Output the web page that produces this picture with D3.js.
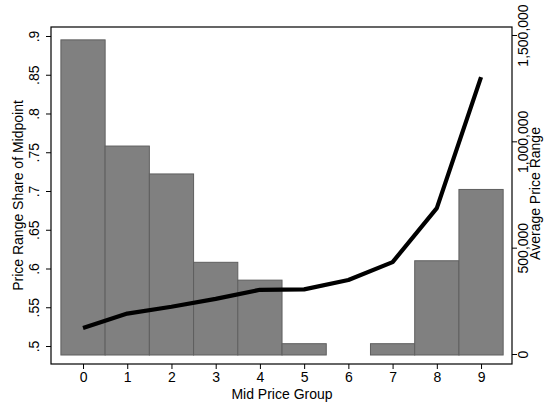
<!DOCTYPE html>
<html>
<head>
<meta charset="utf-8">
<script src="https://cdn.jsdelivr.net/npm/d3@7"></script>
<style>
  html, body { margin: 0; padding: 0; background: #fff; }
  svg { display: block; font-family: "Liberation Sans", Arial, sans-serif; }
</style>
</head>
<body>
<svg id="chart" width="555" height="406"></svg>
<script>
// Mid price groups 0..9
const groups = [0, 1, 2, 3, 4, 5, 6, 7, 8, 9];
// Price range as a share of the midpoint (bars); group 6 has no bar
const shareOfMidpoint = [0.895, 0.758, 0.722, 0.608, 0.585, 0.503, null, 0.503, 0.610, 0.702];
// Average price range (line)
const avgPriceRange = [122000, 190000, 222000, 259000, 302000, 304000, 348000, 432000, 686000, 1302000];
// Bars rise from this floor value
const barBase = 0.4884;

const leftTicks = [0.5, 0.55, 0.6, 0.65, 0.7, 0.75, 0.8, 0.85, 0.9];
const leftTickLabels = [".5", ".55", ".6", ".65", ".7", ".75", ".8", ".85", ".9"];
const rightTicks = [0, 500000, 1000000, 1500000];
const rightTickLabels = ["0", "500,000", "1,000,000", "1,500,000"];

const svg = d3.select("#chart");
const box = { left: 51, right: 512, top: 27, bottom: 364 };

const x = d3.scaleLinear().domain([-0.724, 9.70]).range([box.left, box.right]);
const yL = d3.scaleLinear().domain([0.4768, 0.9116]).range([box.bottom, box.top]);
const yR = d3.scaleLinear().domain([-47000, 1537600]).range([box.bottom, box.top]);

// Bars
const barData = groups.map((g, i) => ({ g, v: shareOfMidpoint[i] })).filter(d => d.v != null);
svg.append("g").selectAll("rect").data(barData).join("rect")
  .attr("x", d => x(d.g - 0.5))
  .attr("width", d => x(d.g + 0.5) - x(d.g - 0.5))
  .attr("y", d => yL(d.v))
  .attr("height", d => yL(barBase) - yL(d.v))
  .attr("fill", "#808080")
  .attr("stroke", "#5f5f5f")
  .attr("stroke-width", 1);

// Line
const lineData = groups.map((g, i) => ({ g, v: avgPriceRange[i] }));
svg.append("path")
  .datum(lineData)
  .attr("fill", "none")
  .attr("stroke", "#000")
  .attr("stroke-width", 4.2)
  .attr("stroke-linejoin", "round")
  .attr("d", d3.line().x(d => x(d.g)).y(d => yR(d.v)));

// Frame
svg.append("rect")
  .attr("x", box.left).attr("y", box.top)
  .attr("width", box.right - box.left).attr("height", box.bottom - box.top)
  .attr("fill", "none").attr("stroke", "#000").attr("stroke-width", 1.2);

const fontSize = 14;

// Bottom axis
const xAxis = svg.append("g").attr("transform", `translate(0,${box.bottom})`)
  .call(d3.axisBottom(x).tickValues(groups).tickSize(5).tickPadding(3).tickFormat(d3.format("d")));
xAxis.select(".domain").remove();
xAxis.selectAll("line").attr("stroke", "#000");
xAxis.selectAll("text").attr("font-size", fontSize).attr("fill", "#000").attr("font-family", "Liberation Sans, Arial, sans-serif");

// Left axis with vertical labels
const lAxis = svg.append("g").attr("transform", `translate(${box.left},0)`)
  .call(d3.axisLeft(yL).tickValues(leftTicks).tickSize(5).tickFormat((d, i) => leftTickLabels[i]));
lAxis.select(".domain").remove();
lAxis.selectAll("line").attr("stroke", "#000");
lAxis.selectAll("text")
  .attr("font-size", fontSize).attr("fill", "#000").attr("font-family", "Liberation Sans, Arial, sans-serif")
  .attr("x", null).attr("dy", null)
  .attr("text-anchor", "middle")
  .attr("transform", "translate(-12.5,0) rotate(-90)");

// Right axis with vertical labels
const rAxis = svg.append("g").attr("transform", `translate(${box.right},0)`)
  .call(d3.axisRight(yR).tickValues(rightTicks).tickSize(5).tickFormat((d, i) => rightTickLabels[i]));
rAxis.select(".domain").remove();
rAxis.selectAll("line").attr("stroke", "#000");
rAxis.selectAll("text")
  .attr("font-size", fontSize).attr("fill", "#000").attr("font-family", "Liberation Sans, Arial, sans-serif")
  .attr("x", null).attr("dy", null)
  .attr("text-anchor", "middle")
  .attr("transform", "translate(16,0) rotate(-90)");

// Axis titles
svg.append("text")
  .attr("x", (box.left + box.right) / 2 + 0.5).attr("y", 399)
  .attr("text-anchor", "middle").attr("font-size", fontSize)
  .text("Mid Price Group");
svg.append("text")
  .attr("transform", `translate(22.5,${(box.top + box.bottom) / 2}) rotate(-90)`)
  .attr("text-anchor", "middle").attr("font-size", fontSize)
  .text("Price Range Share of Midpoint");
svg.append("text")
  .attr("transform", `translate(540,${(box.top + box.bottom) / 2 - 2}) rotate(-90)`)
  .attr("text-anchor", "middle").attr("font-size", fontSize)
  .text("Average Price Range");
</script>
</body>
</html>
